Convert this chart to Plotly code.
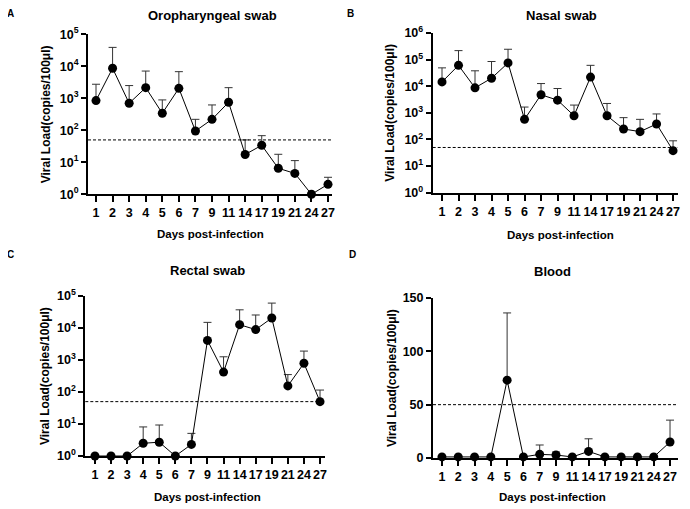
import plotly.graph_objects as go

# The page body adds an 8px margin, so the figure is drawn 8px in from the
# top-left corner of the 690x509 window.
PAGE_W, PAGE_H = 690, 509
OFF = 8
W, H = PAGE_W - OFF, PAGE_H - OFF

days = ["1", "2", "3", "4", "5", "6", "7", "9", "11", "14", "17", "19", "21", "24", "27"]

oro_mean = [850, 8700, 700, 2150, 340, 2050, 95, 220, 750, 17.5, 34, 6.5, 4.5, 1, 2.05]
oro_upper = [2750, 39000, 2500, 7100, 890, 6800, 220, 620, 2150, 50, 68, 17.8, 11.3, 1, 3.4]

nasal_mean = [14500, 61000, 8700, 20000, 75000, 570, 4800, 3000, 780, 22000, 780, 247, 197, 380, 38]
nasal_upper = [49000, 218000, 38000, 85000, 245000, 1650, 12600, 8200, 1960, 61000, 2250, 660, 570, 910, 89]

rectal_mean = [1, 1, 1, 2.5, 2.7, 1, 2.3, 4100, 420, 12700, 8900, 20500, 155, 790, 50]
rectal_upper = [1, 1, 1, 8.1, 9.3, 1, 5.1, 15000, 1260, 37000, 25500, 60000, 350, 1900, 115]

blood_mean = [1, 1, 1, 1, 73, 1, 3.4, 2.8, 1, 6.2, 1, 1, 1, 1, 15]
blood_upper = [1, 1, 1, 1, 136, 1, 12.2, 5.6, 1, 18, 1, 1, 1, 1, 35.5]

threshold = 50

titles = ["Oropharyngeal swab", "Nasal swab", "Rectal swab", "Blood"]
letters = ["A", "B", "C", "D"]
y_title = "Viral Load(copies/100μl)"
x_title = "Days post-infection"

FONT = "Liberation Sans, Arial, sans-serif"


def fx(px):
    return (px - OFF) / W


def fy(py):
    return 1 - (py - OFF) / H


# panel geometry in window pixels: left, right, top, bottom, x range, y range
panels = [
    dict(mean=oro_mean, upper=oro_upper, l=88, r=332, t=34.3, b=194.3,
         xr=[-0.483, 14.241], yr=[0, 5], log=True),
    dict(mean=nasal_mean, upper=nasal_upper, l=432.7, r=678, t=33, b=192.7,
         xr=[-0.564, 14.30], yr=[0, 6], log=True),
    dict(mean=rectal_mean, upper=rectal_upper, l=85.3, r=325, t=296, b=456,
         xr=[-0.60, 14.31], yr=[0, 5], log=True),
    dict(mean=blood_mean, upper=blood_upper, l=433, r=678, t=298, b=458,
         xr=[-0.55, 14.49], yr=[0, 150], log=False),
]

title_pos = [(212, 15), (561, 15), (207, 270), (552, 271)]
letter_pos = [(10, 13.5), (350, 13.5), (10, 255), (352, 255)]
ytitle_x = [46, 390, 45, 392]
xtitle_y = [234, 235, 497, 497]
xtitle_x = [210, 560, 207, 552]

fig = go.Figure()
shapes = []
annotations = []

for i, p in enumerate(panels):
    n = i + 1
    xa = "x" if n == 1 else f"x{n}"
    ya = "y" if n == 1 else f"y{n}"
    err = [u - m for u, m in zip(p["upper"], p["mean"])]
    fig.add_trace(go.Scatter(
        x=days, y=p["mean"], xaxis=xa, yaxis=ya,
        mode="lines+markers",
        line=dict(color="black", width=1),
        marker=dict(color="black", size=9),
        error_y=dict(type="data", symmetric=False, array=err,
                     arrayminus=[0] * len(err), color="#333333",
                     thickness=1, width=4),
        cliponaxis=False, showlegend=False,
    ))

    xkey = "xaxis" if n == 1 else f"xaxis{n}"
    ykey = "yaxis" if n == 1 else f"yaxis{n}"
    xaxis = dict(
        domain=[fx(p["l"]), fx(p["r"])], anchor=ya, type="category",
        range=p["xr"], showgrid=False, zeroline=False, automargin=False,
        showline=True, linecolor="black", linewidth=2,
        ticks="outside", ticklen=6, tickwidth=2, tickcolor="black",
        tickfont=dict(family=FONT, size=12.5, color="black", weight="bold"),
        fixedrange=True,
    )
    if p["log"]:
        dec = list(range(p["yr"][0], p["yr"][1] + 1))
        yaxis = dict(
            type="log", range=p["yr"],
            tickvals=[10 ** k for k in dec],
            ticktext=[f"10<sup>{k}</sup>" for k in dec],
        )
    else:
        yaxis = dict(type="linear", range=p["yr"], tickvals=[0, 50, 100, 150])
    yaxis.update(
        domain=[fy(p["b"]), fy(p["t"])], anchor=xa, automargin=False,
        showgrid=False, zeroline=False,
        showline=True, linecolor="black", linewidth=2,
        ticks="outside", ticklen=5, tickwidth=2, tickcolor="black",
        tickfont=dict(family=FONT, size=12.5, color="black", weight="bold"),
        fixedrange=True,
    )
    fig.update_layout({xkey: xaxis, ykey: yaxis})

    shapes.append(dict(
        type="line", xref=f"{xa} domain", yref=ya,
        x0=0, x1=1, y0=threshold, y1=threshold,
        line=dict(color="black", width=1, dash="3px,2px"),
    ))

    tx, ty = title_pos[i]
    annotations.append(dict(
        text=titles[i], x=fx(tx), y=fy(ty), xref="paper", yref="paper",
        showarrow=False, xanchor="center", yanchor="middle",
        font=dict(family=FONT, size=13, color="black", weight="bold"),
    ))
    lx, ly = letter_pos[i]
    annotations.append(dict(
        text=letters[i], x=fx(lx), y=fy(ly), xref="paper", yref="paper",
        showarrow=False, xanchor="center", yanchor="middle",
        font=dict(family=FONT, size=10, color="black", weight="bold"),
    ))
    annotations.append(dict(
        text=y_title, x=fx(ytitle_x[i]), y=fy((p["t"] + p["b"]) / 2),
        xref="paper", yref="paper", textangle=-90,
        showarrow=False, xanchor="center", yanchor="middle",
        font=dict(family=FONT, size=12, color="black", weight="bold"),
    ))
    annotations.append(dict(
        text=x_title, x=fx(xtitle_x[i]), y=fy(xtitle_y[i]),
        xref="paper", yref="paper",
        showarrow=False, xanchor="center", yanchor="middle",
        font=dict(family=FONT, size=11.5, color="black", weight="bold"),
    ))

fig.update_layout(
    width=W, height=H,
    margin=dict(l=0, r=0, t=0, b=0),
    paper_bgcolor="white", plot_bgcolor="white",
    shapes=shapes, annotations=annotations,
    font=dict(family=FONT, color="black"),
)

fig.write_html("out.html")
